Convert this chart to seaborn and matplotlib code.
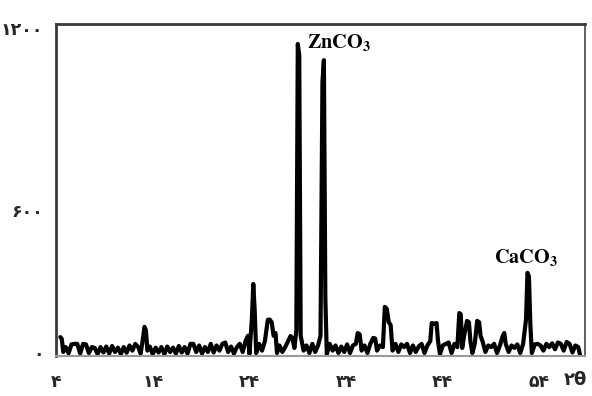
import matplotlib
matplotlib.use("Agg")
import matplotlib.pyplot as plt
import seaborn as sns
import pandas as pd

two_theta = [4.45, 4.6, 4.75, 5.0, 5.3, 5.6, 5.9, 6.2, 6.5, 6.8, 7.1, 7.4, 7.7, 8.0, 8.3, 8.6, 8.9,
             9.2, 9.5, 9.8, 10.1, 10.4, 10.7, 11.0, 11.3, 11.6, 11.9, 12.2, 12.5, 12.75, 12.95,
             13.15, 13.3, 13.45, 13.7, 14.0, 14.3, 14.6, 14.9, 15.2, 15.5, 15.8, 16.1, 16.4, 16.7,
             17.0, 17.3, 17.6, 17.9, 18.2, 18.5, 18.8, 19.1, 19.4, 19.7, 20.0, 20.3, 20.6, 20.9,
             21.2, 21.5, 21.8, 22.1, 22.4, 22.7, 23.0, 23.3, 23.6, 23.85, 24.0, 24.25, 24.4, 24.55,
             24.7, 25.0, 25.3, 25.6, 25.9, 26.1, 26.3, 26.5, 26.7, 26.85, 27.1, 27.4, 27.7, 28.0,
             28.25, 28.45, 28.65, 28.85, 29.0, 29.15, 29.3, 29.6, 29.9, 30.2, 30.5, 30.8, 31.1,
             31.35, 31.55, 31.7, 31.85, 32.0, 32.3, 32.6, 32.9, 33.2, 33.5, 33.8, 34.1, 34.4, 34.7,
             35.0, 35.2, 35.4, 35.6, 35.9, 36.2, 36.5, 36.8, 37.0, 37.2, 37.5, 37.8, 38.0, 38.2,
             38.4, 38.6, 38.8, 39.1, 39.4, 39.7, 40.0, 40.3, 40.6, 40.9, 41.2, 41.5, 41.8, 42.1,
             42.4, 42.7, 42.85, 43.1, 43.35, 43.5, 43.7, 44.0, 44.3, 44.6, 44.9, 45.2, 45.5, 45.7,
             45.85, 46.0, 46.2, 46.5, 46.7, 46.85, 47.05, 47.3, 47.55, 47.75, 47.9, 48.1, 48.4,
             48.7, 49.0, 49.3, 49.6, 49.9, 50.2, 50.35, 50.5, 50.8, 51.1, 51.4, 51.7, 52.0, 52.3,
             52.6, 52.75, 52.9, 53.05, 53.2, 53.5, 53.8, 54.1, 54.4, 54.7, 55.0, 55.3, 55.6, 55.9,
             56.2, 56.5, 56.8, 57.1, 57.4, 57.7, 58.0, 58.2]
intensity = [55, 48, 0, 18, -5, 28, 30, 30, -6, 30, 28, -4, 18, 15, -8, 18, -2,
             20, -6, 22, 0, 16, -8, 18, -3, 24, 5, 30, 18, -6, 40,
             93, 80, 5, 20, -8, 16, -2, 18, -8, 20, 0, 16, -6, 22,
             -2, 18, -6, 30, 30, 0, 24, -6, 18, 0, 30, -2, 24, 5,
             30, 35, 0, 20, -6, 18, 30, 0, 40, 60, -8, 120, 252, 150,
             -4, 30, 5, 40, 119, 120, 110, 60, 70, -4, 24, 0, 18, 40,
             59, 50, 15, 80, 1141, 1100, 60, 5, 24, -4, 30, 0, 24,
             60, 1000, 1081, 200, -8, 30, 5, 24, -4, 20, 0, 28, -4, 24,
             30, 70, 65, 5, 24, -4, 30, 52, 50, 5, 24, 18, 167, 160,
             111, 100, 5, 30, 0, 28, 18, 30, -4, 24, 0, 20, 30, -4,
             24, 40, 107, 105, 107, 40, -8, 24, 30, 35, -4, 30, 18, 144,
             140, 15, 60, 115, 110, 40, -4, 30, 115, 110, 60, 40, 0,
             24, 18, 30, -4, 24, 60, 70, 30, 0, 24, 15, 28, -4, 30,
             120, 293, 280, 100, -4, 28, 30, 24, 5, 30, 18, 32, 10, 35,
             30, 5, 37, 30, -2, 24, 18, -14]

x_ticks = [4, 14, 24, 34, 44, 54]
x_tick_labels = ["۴", "۱۴", "۲۴", "۳۴", "۴۴", "۵۴"]
y_ticks = [0, 525, 1200]
y_tick_labels = ["۰", "۶۰۰", "۱۲۰۰"]
x_axis_label = "۲θ"
peak_labels = [r"$\mathbf{ZnCO_3}$", r"$\mathbf{CaCO_3}$"]
peak_label_pos = [(33.3, 1145), (52.6, 350)]

sns.set_style("white")
plt.rcParams["font.family"] = ["DejaVu Sans"]
plt.rcParams["mathtext.fontset"] = "stix"

fig = plt.figure(figsize=(5.92, 3.96), dpi=100)
ax = fig.add_axes([0.0946, 0.101, 0.8936, 0.8384])

df = pd.DataFrame({"two_theta": two_theta, "intensity": intensity})
sns.lineplot(data=df, x="two_theta", y="intensity", color="black", linewidth=3.0,
             estimator=None, sort=False, ax=ax)

ax.set_xlim(4.4, 58.7)
ax.set_ylim(-15, 1215)
ax.set_xticks(x_ticks)
ax.set_xticklabels(x_tick_labels, fontsize=12.5, fontweight="bold")
ax.set_yticks(y_ticks)
ax.set_yticklabels(y_tick_labels, fontsize=12.5, fontweight="bold")
ax.tick_params(axis="both", length=0)
ax.tick_params(axis="x", pad=12)
ax.tick_params(axis="y", pad=9)
ax.set_xlabel("")
ax.set_ylabel("")

for side in ["left", "top"]:
    ax.spines[side].set_color("#3a3a3a")
    ax.spines[side].set_linewidth(2.0)
ax.spines["right"].set_color("#555555")
ax.spines["right"].set_linewidth(1.3)
ax.spines["bottom"].set_color("#999999")
ax.spines["bottom"].set_linewidth(1.5)

fig.text(575 / 592, 1 - 380 / 396, x_axis_label, fontsize=13, fontweight="bold",
         ha="center", va="center")

for lab, (px, py) in zip(peak_labels, peak_label_pos):
    ax.text(px, py, lab, fontsize=14.5, ha="center", va="center", color="black")

fig.savefig("out.png", dpi=100)
